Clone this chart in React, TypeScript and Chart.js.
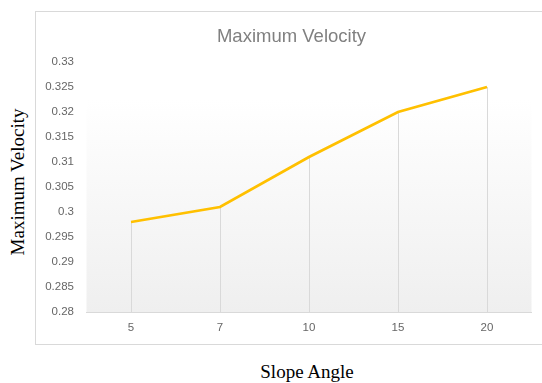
import React, { useEffect, useRef } from "react";
import { Chart, registerables } from "chart.js";

Chart.register(...registerables);

const categories: string[] = ["5", "7", "10", "15", "20"];
const maxVelocity: number[] = [0.298, 0.301, 0.311, 0.32, 0.325];
const yTickValues: number[] = [0.28, 0.285, 0.29, 0.295, 0.3, 0.305, 0.31, 0.315, 0.32, 0.325, 0.33];
const chartTitle = "Maximum Velocity";
const yAxisTitle = "Maximum Velocity";
const xAxisTitle = "Slope Angle";

const plotBackground = {
  id: "plotBackground",
  beforeDraw(chart: any) {
    const { ctx, chartArea } = chart;
    if (!chartArea) return;
    const g = ctx.createLinearGradient(0, chartArea.top, 0, chartArea.bottom);
    g.addColorStop(0, "#ffffff");
    g.addColorStop(0.15, "#ffffff");
    g.addColorStop(1, "#efefef");
    ctx.save();
    ctx.fillStyle = g;
    ctx.fillRect(chartArea.left, chartArea.top, chartArea.right - chartArea.left, chartArea.bottom - chartArea.top);
    ctx.restore();
  },
};

const dropLines = {
  id: "dropLines",
  beforeDatasetsDraw(chart: any) {
    const { ctx, chartArea } = chart;
    const meta = chart.getDatasetMeta(0);
    ctx.save();
    ctx.strokeStyle = "#d9d9d9";
    ctx.lineWidth = 1;
    meta.data.forEach((pt: any) => {
      const x = Math.round(pt.x) + 0.5;
      ctx.beginPath();
      ctx.moveTo(x, pt.y);
      ctx.lineTo(x, chartArea.bottom);
      ctx.stroke();
    });
    ctx.restore();
  },
};

export default function App() {
  const canvasRef = useRef<HTMLCanvasElement | null>(null);

  useEffect(() => {
    if (!canvasRef.current) return;
    const chart = new Chart(canvasRef.current, {
      type: "line",
      data: {
        labels: categories,
        datasets: [
          {
            label: chartTitle,
            data: maxVelocity,
            borderColor: "#FFC000",
            borderWidth: 2.75,
            pointRadius: 0,
            pointHoverRadius: 0,
            tension: 0,
            fill: false,
          },
        ],
      },
      options: {
        animation: false,
        responsive: false,
        maintainAspectRatio: false,
        layout: { padding: { left: 0, right: 10.5, top: 50, bottom: 0 } },
        plugins: {
          legend: { display: false },
          tooltip: { enabled: false },
          title: { display: false },
        },
        scales: {
          x: {
            type: "category",
            offset: true,
            grid: { display: false, drawTicks: false },
            border: { display: true, color: "#d9d9d9", width: 1 },
            afterFit(scale: any) {
              scale.height = 31;
            },
            ticks: {
              color: "#666666",
              font: { family: "'Liberation Sans', Arial, sans-serif", size: 11.5 },
              padding: 9,
              maxRotation: 0,
            },
          },
          y: {
            min: 0.28,
            max: 0.33,
            grid: { display: false, drawTicks: false },
            border: { display: false },
            afterFit(scale: any) {
              scale.width = 50.5;
            },
            afterBuildTicks(scale: any) {
              scale.ticks = yTickValues.map((v) => ({ value: v }));
            },
            ticks: {
              color: "#666666",
              font: { family: "'Liberation Sans', Arial, sans-serif", size: 11.5 },
              padding: 12.5,
              callback: (v: any) => String(Number(Number(v).toFixed(3))),
            },
          },
        },
      },
      plugins: [plotBackground, dropLines],
    });
    return () => chart.destroy();
  }, []);

  return (
    <div
      style={{
        position: "absolute",
        left: 0,
        top: 0,
        width: 542,
        height: 383,
        overflow: "hidden",
        background: "#ffffff",
      }}
    >
      <div
        style={{
          position: "absolute",
          left: 35,
          top: 11,
          width: 520,
          height: 332,
          border: "1px solid #d9d9d9",
        }}
      />
      <canvas
        ref={canvasRef}
        width={506}
        height={331}
        style={{ position: "absolute", left: 36, top: 12, width: 506, height: 331 }}
      />
      <div
        style={{
          position: "absolute",
          left: 291.5,
          top: 36,
          transform: "translate(-50%, -50%)",
          whiteSpace: "nowrap",
          fontFamily: "'Liberation Sans', Arial, sans-serif",
          fontSize: 18.5,
          color: "#808080",
        }}
      >
        {chartTitle}
      </div>
      <div
        style={{
          position: "absolute",
          left: 18,
          top: 182,
          transform: "translate(-50%, -50%) rotate(-90deg)",
          whiteSpace: "nowrap",
          fontFamily: "'Liberation Serif', 'Times New Roman', serif",
          fontSize: 19,
          color: "#000000",
        }}
      >
        {yAxisTitle}
      </div>
      <div
        style={{
          position: "absolute",
          left: 307,
          top: 372,
          transform: "translate(-50%, -50%)",
          whiteSpace: "nowrap",
          fontFamily: "'Liberation Serif', 'Times New Roman', serif",
          fontSize: 19,
          color: "#000000",
        }}
      >
        {xAxisTitle}
      </div>
    </div>
  );
}
